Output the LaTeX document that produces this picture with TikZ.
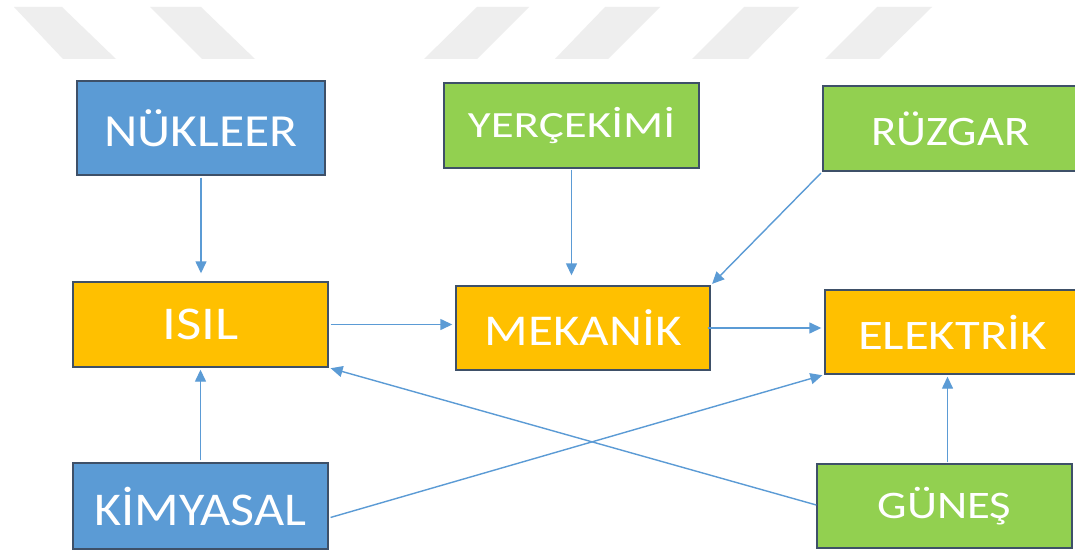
\documentclass[tikz,border=0pt]{standalone}
\usepackage{fontspec}
\usepackage{graphicx}
\setmainfont{Carlito}
\usetikzlibrary{arrows.meta,calc}
\definecolor{bblue}{HTML}{5B9BD5}
\definecolor{bgreen}{HTML}{92D050}
\definecolor{borange}{HTML}{FFC000}
\definecolor{bedge}{HTML}{3E5068}
\definecolor{arr}{HTML}{5B9BD5}
\definecolor{stripe}{HTML}{EEEEEE}
\newcommand{\boxtext}[3]{{\fontsize{#1}{#1}\selectfont\scalebox{#2}[1]{#3}}}
\tikzset{
  box/.style={draw=bedge, line width=1.4pt, text=white, inner sep=0pt, align=center},
  conn/.style={draw=arr, line width=1.4pt, -{Triangle[length=12pt,width=11pt]}},
}
\begin{document}
\begin{tikzpicture}[x=1pt,y=-1pt]
\clip (0,0) rectangle (1075,551);
\fill[white] (0,0) rectangle (1075,551);
% watermark stripes
\foreach \a/\b/\c/\d in {14/62/116/63, 150/201/255/202}{
  \fill[stripe] (\a,7) -- (\b,7) -- (\c,59) -- (\d,59) -- cycle;}
\foreach \a/\b/\c/\d in {477/529/477/424, 605/660/608/555, 744/799/748/692, 877/932/879/825}{
  \fill[stripe] (\a,7) -- (\b,7) -- (\c,59) -- (\d,59) -- cycle;}
% boxes
\node[box, fill=bblue, minimum width=248pt, minimum height=94pt] (nuk) at (201,128) {\boxtext{46}{1.12}{NÜKLEER}};
\node[box, fill=bgreen, minimum width=255pt, minimum height=85pt] (yer) at (571.5,125.5) {\boxtext{37}{1.27}{YERÇEKİMİ}};
\node[box, fill=bgreen, minimum width=255pt, minimum height=85pt] (ruz) at (950.5,128.5) {\boxtext{42}{1.11}{RÜZGAR}};
\node[box, fill=borange, minimum width=255pt, minimum height=85pt] (isil) at (200.5,324.5) {\boxtext{47}{1.17}{ISIL}};
\node[box, fill=borange, minimum width=254pt, minimum height=84pt] (mek) at (583,328) {\boxtext{44}{1.16}{MEKANİK}};
\node[box, fill=borange, minimum width=255pt, minimum height=84pt] (elk) at (952.5,332) {\boxtext{42}{1.21}{ELEKTRİK}};
\node[box, fill=bblue, minimum width=255pt, minimum height=86pt] (kim) at (200.5,506) {\boxtext{47}{1.11}{KİMYASAL}};
\node[box, fill=bgreen, minimum width=255pt, minimum height=84pt] (gun) at (944.5,506) {\boxtext{39}{1.2}{GÜNEŞ}};
% connectors
\draw[conn, shorten <=2pt, shorten >=8pt] (nuk.south) -- (nuk.south |- isil.north);
\draw[conn, shorten <=1pt, shorten >=10pt] (yer.south) -- (yer.south |- mek.north);
\draw[conn, shorten <=2pt, shorten >=2pt] (ruz.south west) -- (mek.north east);
\draw[conn, shorten <=2pt, shorten >=3pt] (isil.east) -- (isil.east -| mek.west);
\draw[conn, shorten <=-3pt, shorten >=3pt] (mek.east) -- (mek.east -| elk.west);
\draw[conn, shorten <=2pt, shorten >=2pt] (kim.north) -- (kim.north |- isil.south);
\draw[conn, shorten <=2pt, shorten >=2pt] ($(kim.east)+(0,12)$) -- (elk.south west);
\draw[conn, shorten <=0pt, shorten >=2pt] ($(gun.west)+(0,-1)$) -- (isil.south east);
\draw[conn, shorten <=1pt, shorten >=2pt] ($(gun.north)+(3,0)$) -- ($(gun.north |- elk.south)+(3,0)$);
\end{tikzpicture}
\end{document}
